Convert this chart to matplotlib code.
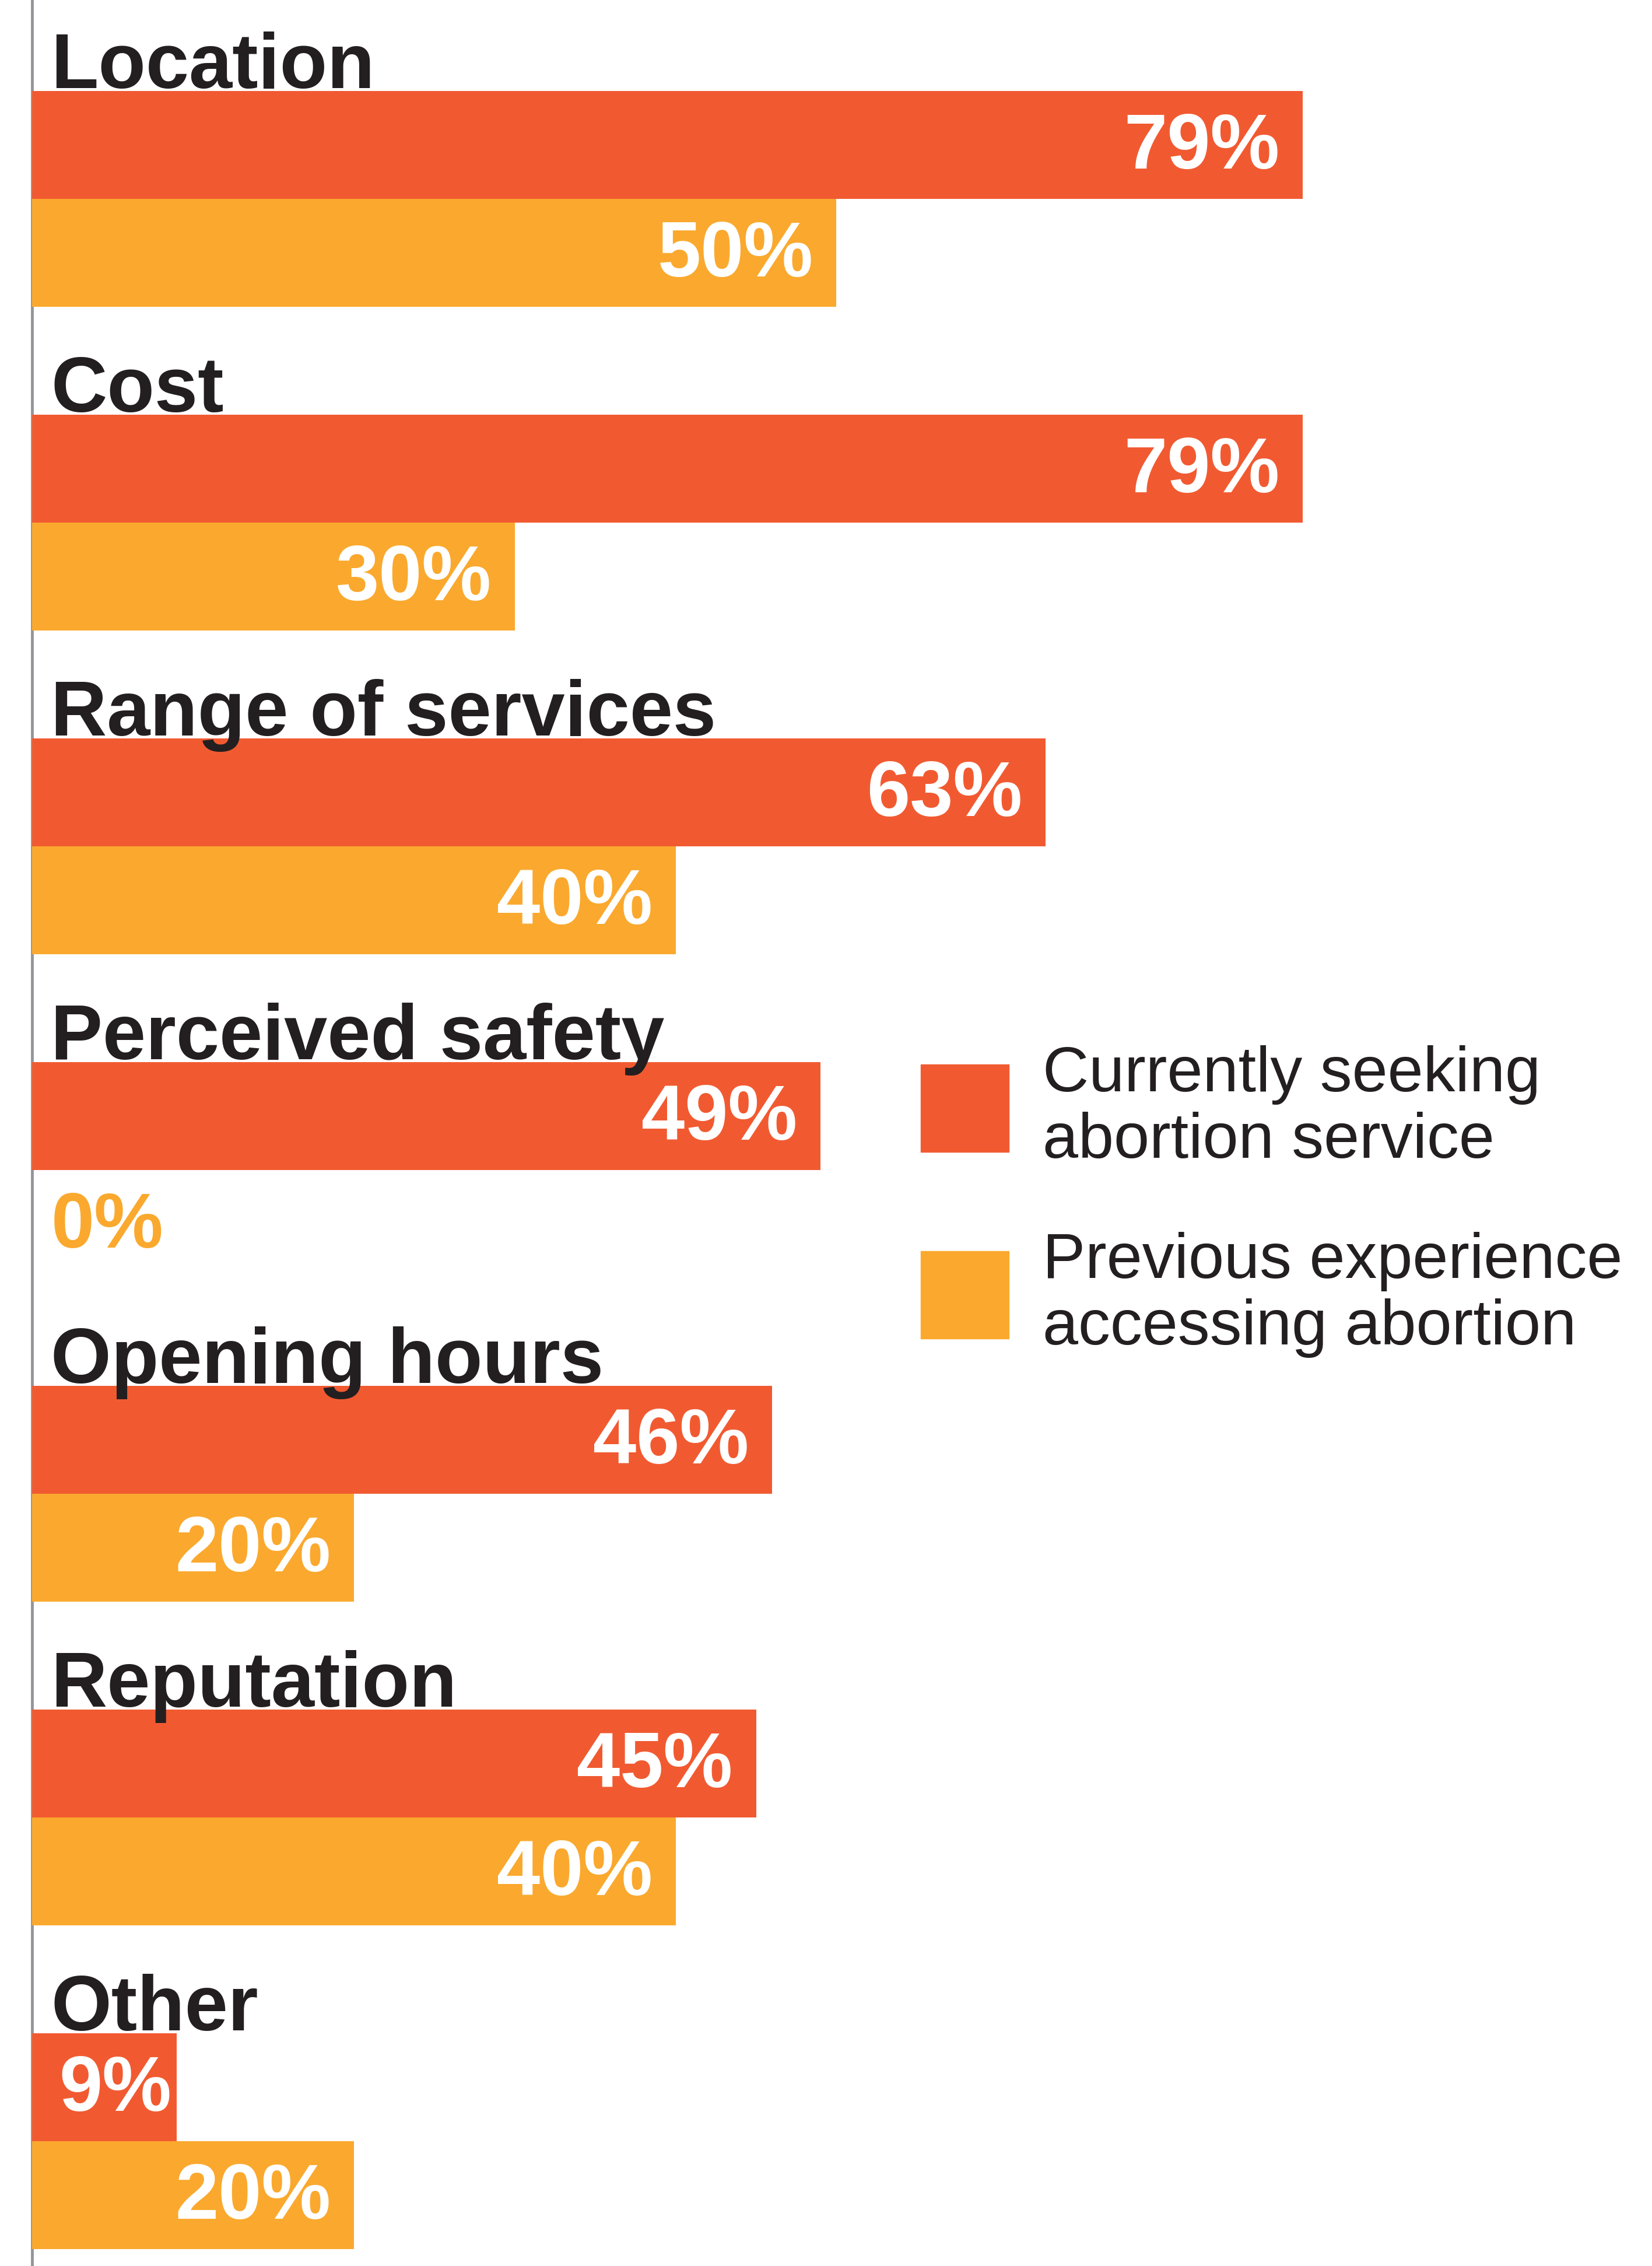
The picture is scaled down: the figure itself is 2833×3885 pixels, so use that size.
import matplotlib.pyplot as plt
from matplotlib.patches import Rectangle

categories = ["Location", "Cost", "Range of services", "Perceived safety",
              "Opening hours", "Reputation", "Other"]
current = [79, 79, 63, 49, 46, 45, 9]
previous = [50, 30, 40, 0, 20, 40, 20]
legend_labels = ["Currently seeking\nabortion service",
                 "Previous experience\naccessing abortion"]

orange = "#F15A31"
yellow = "#FAA92E"
dark = "#231F20"

plt.rcParams['font.family'] = ['Liberation Sans', 'DejaVu Sans']

fig = plt.figure(figsize=(28.33, 38.85), dpi=100)
ax = fig.add_axes([0, 0, 1, 1])


def label_x(v):
    # small bars: keep the label tight to the bar end
    return v - 1.45 if v > 15 else v - 0.35


top = 0.844  # space above the first label slot, in bar heights
for i, cat in enumerate(categories):
    y_cur = 3 * i + top + 0.5
    y_prev = y_cur + 1
    ax.barh(y_cur, current[i], height=1.0, color=orange, left=0, zorder=2)
    ax.barh(y_prev, previous[i], height=1.0, color=yellow, left=0, zorder=2)

    ax.text(1.17, y_cur - 0.53, cat, ha="left", va="baseline", fontsize=96,
            fontweight="bold", color=dark, zorder=3)

    ax.text(label_x(current[i]), y_cur + 0.03, f"{current[i]}%",
            ha="right", va="center", fontsize=96, fontweight="bold",
            color="white", zorder=3)
    if previous[i] > 0:
        ax.text(label_x(previous[i]), y_prev + 0.03, f"{previous[i]}%",
                ha="right", va="center", fontsize=96, fontweight="bold",
                color="white", zorder=3)
    else:
        ax.text(1.17, y_prev + 0.03, f"{previous[i]}%", ha="left",
                va="center", fontsize=96, fontweight="bold", color=yellow,
                zorder=3)

ax.set_xlim(-2.0, 100.7)
ax.set_ylim(21.0, 0)
ax.set_xticks([])
ax.set_yticks([])
for s in ["top", "right", "bottom", "left"]:
    ax.spines[s].set_visible(False)
ax.axvline(0, color="#939598", linewidth=3.5, zorder=1)

# legend drawn by hand
sq_x, sq_w = 0.5575, 0.0531
sq_h = sq_w * 28.33 / 38.85
for col, label, yc in zip([orange, yellow], legend_labels, [0.511, 0.4286]):
    fig.patches.append(Rectangle((sq_x, yc - sq_h / 2), sq_w, sq_h,
                                 transform=fig.transFigure, color=col))
    fig.text(0.631, yc, label, ha="left", va="center", fontsize=79,
             color=dark, linespacing=1.15)

plt.savefig("out.png", dpi=100)
